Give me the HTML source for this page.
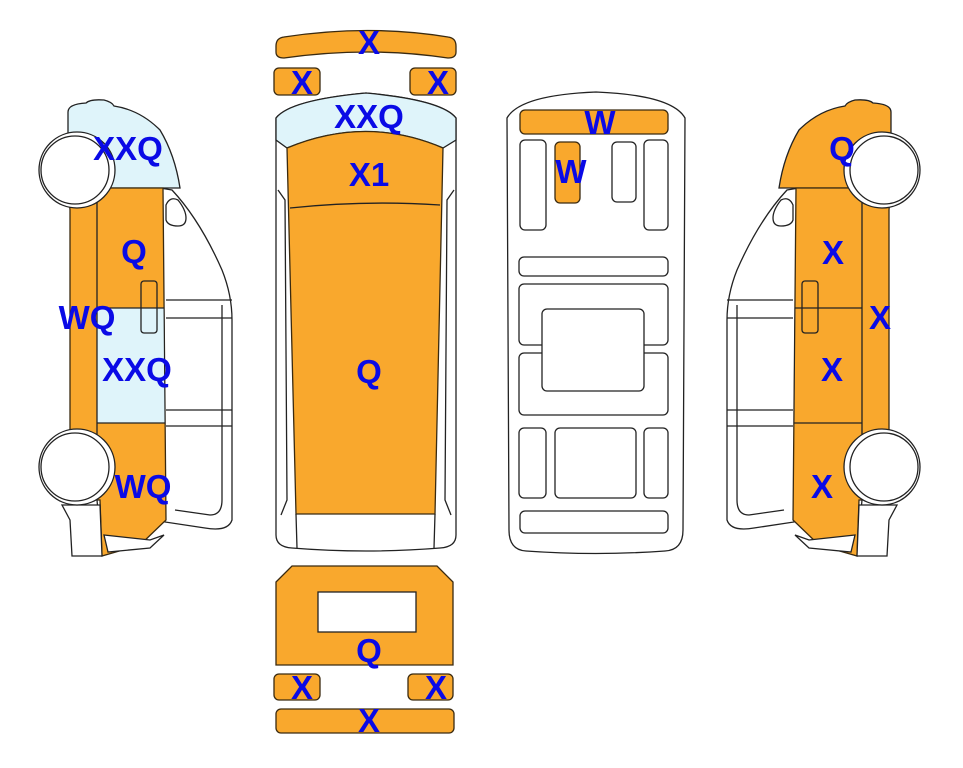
<!DOCTYPE html>
<html><head><meta charset="utf-8"><style>
html,body{margin:0;padding:0;background:#fff;}
svg{display:block;}
text{font-family:"Liberation Sans",sans-serif;font-weight:bold;font-size:33px;fill:#0a0ae6;text-anchor:middle;}
.o{fill:#f9a82d;stroke:#3a2a10;stroke-width:1.3;}
.w{fill:#fff;stroke:#222;stroke-width:1.3;}
.b{fill:#dff4fa;stroke:#222;stroke-width:1.3;}
.l{fill:none;stroke:#222;stroke-width:1.3;}
</style></head><body>
<svg width="963" height="768" viewBox="0 0 963 768" xmlns="http://www.w3.org/2000/svg">
<defs>
<g id="side">
  <path class="w" d="M160 188 L172 190 Q200 220 222 270 Q232 295 232 320 L232 520 Q228 532 205 528 L165 522 Z"/>
  <path class="w" d="M166 205 Q170 196 178 200 Q186 210 186 218 Q186 226 178 226 Q168 226 166 220 Z"/>
  <path class="l" d="M166 300 L232 300 M166 318 L232 318 M166 410 L232 410 M166 426 L232 426 M222 305 L222 500 Q222 515 210 515 L175 510"/>
  <path fill="var(--top)" stroke="#222" stroke-width="1.3" d="M68 188 L68 112 Q68 104 86 103 Q90 99 104 100 Q112 102 114 106 Q140 110 160 130 Q175 155 180 188 Z"/>
  <path class="o" d="M68 188 L163 188 L166 520 L140 545 L102 556 L100 500 L70 500 L70 210 Z"/>
  <path fill="var(--mid)" stroke="#222" stroke-width="1" d="M97 308 L164 308 L165 423 L97 423 Z"/>
  <path class="l" d="M97 190 L97 435 M97 500 L102 556"/>
  <path class="l" d="M97 423 L165 423 M97 308 L164 308"/>
  <rect class="l" x="141" y="281" width="16" height="52" rx="3"/>
  <path class="w" d="M62 505 L100 505 L102 556 L72 556 L70 520 Z"/>
  <path class="w" d="M104 535 L150 540 L164 535 L150 548 L108 552 Z"/>
  <circle class="w" cx="77" cy="170" r="38"/>
  <circle class="w" cx="75" cy="170" r="34"/>
  <circle class="w" cx="77" cy="467" r="38"/>
  <circle class="w" cx="75" cy="467" r="34"/>
</g>
</defs>

<g style="--top:#dff4fa;--mid:#dff4fa"><use href="#side"/></g>
<g style="--top:#f9a82d;--mid:#f9a82d" transform="translate(959,0) scale(-1,1)"><use href="#side"/></g>

<path class="o" d="M276 46 Q276 38 284 37 Q369 24 448 37 Q456 38 456 46 L456 52 Q456 58 448 58 Q369 46 284 58 Q276 58 276 52 Z"/>
<rect class="o" x="274" y="68" width="46" height="27" rx="5"/>
<rect class="o" x="410" y="68" width="46" height="27" rx="5"/>

<path class="w" d="M276 118 Q290 100 366 93 Q442 100 456 118 L456 535 Q456 547 440 548 Q366 554 292 548 Q276 547 276 535 Z"/>
<path class="b" d="M276 118 Q290 100 366 93 Q442 100 456 118 L456 140 L443 148 Q366 115 287 148 L276 140 Z"/>
<path class="o" d="M287 148 Q366 115 443 148 L435 514 L296 514 Z"/>
<path class="l" d="M290 208 Q366 200 440 205 M296 514 L297 548 M435 514 L434 548 M278 190 L285 200 L287 500 L281 515 M454 190 L447 200 L445 500 L451 515"/>

<path class="w" d="M507 118 Q520 95 596 92 Q672 95 685 118 L683 530 Q683 550 665 551 Q596 556 526 551 Q509 550 509 530 Z"/>
<rect class="o" x="520" y="110" width="148" height="24" rx="5"/>
<rect class="w" x="520" y="140" width="26" height="90" rx="5"/>
<rect class="o" x="555" y="142" width="25" height="61" rx="5"/>
<rect class="w" x="612" y="142" width="24" height="60" rx="5"/>
<rect class="w" x="644" y="140" width="24" height="90" rx="5"/>
<rect class="w" x="519" y="257" width="149" height="19" rx="5"/>
<rect class="w" x="519" y="284" width="149" height="61" rx="5"/>
<rect class="w" x="519" y="353" width="149" height="62" rx="5"/>
<rect class="w" x="542" y="309" width="102" height="82" rx="5"/>
<rect class="w" x="519" y="428" width="27" height="70" rx="5"/>
<rect class="w" x="555" y="428" width="81" height="70" rx="5"/>
<rect class="w" x="644" y="428" width="24" height="70" rx="5"/>
<rect class="w" x="520" y="511" width="148" height="22" rx="5"/>

<path class="o" d="M276 582 L292 566 L437 566 L453 582 L453 665 L276 665 Z"/>
<rect class="w" x="318" y="592" width="98" height="40"/>
<rect class="o" x="274" y="674" width="46" height="26" rx="5"/>
<rect class="o" x="408" y="674" width="45" height="26" rx="5"/>
<rect class="o" x="276" y="709" width="178" height="24" rx="5"/>

<text x="369" y="54">X</text>
<text x="302" y="94">X</text>
<text x="438" y="94">X</text>
<text x="369" y="128">XXQ</text>
<text x="369" y="186">X1</text>
<text x="369" y="383">Q</text>
<text x="600" y="134">W</text>
<text x="571" y="183">W</text>
<text x="369" y="662">Q</text>
<text x="302" y="699">X</text>
<text x="436" y="699">X</text>
<text x="369" y="732">X</text>
<text x="128" y="160">XXQ</text>
<text x="134" y="263">Q</text>
<text x="87" y="329">WQ</text>
<text x="137" y="381">XXQ</text>
<text x="143" y="498">WQ</text>
<text x="842" y="160">Q</text>
<text x="833" y="264">X</text>
<text x="880" y="329">X</text>
<text x="832" y="381">X</text>
<text x="822" y="498">X</text>
</svg>
</body></html>
